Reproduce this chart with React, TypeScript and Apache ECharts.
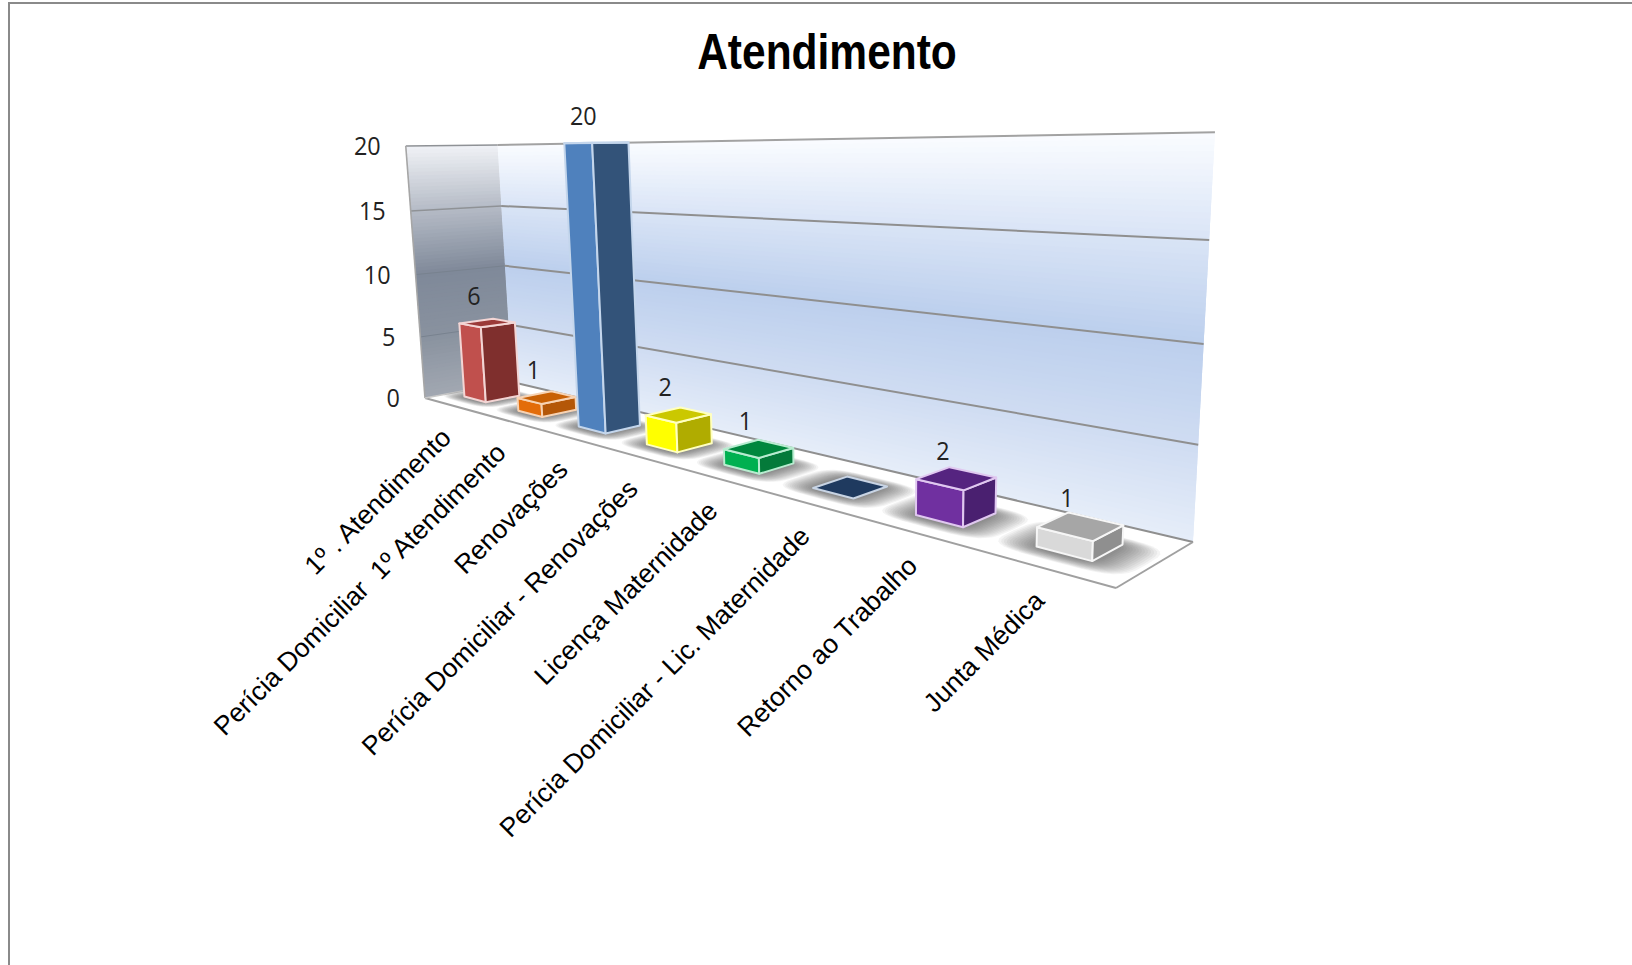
import React, { useEffect, useRef } from "react";
import * as echarts from "echarts";

const titleText = "Atendimento";
const categories = [
  "1º . Atendimento",
  "Perícia Domiciliar  1º Atendimento",
  "Renovações",
  "Perícia Domiciliar - Renovações",
  "Licença Maternidade",
  "Perícia Domiciliar - Lic. Maternidade",
  "Retorno ao Trabalho",
  "Junta Médica",
];
const values = [6, 1, 20, 2, 1, 0, 2, 1];
const yTicks = [0, 5, 10, 15, 20];
const frontColors = ["#c0504d", "#e36c09", "#4f81bd", "#ffff00", "#00b050", "#1f3864", "#7030a0", "#d9d9d9"];
const sideColors = ["#7f2f2d", "#b45708", "#335379", "#b0ac00", "#047a3a", "#1f3864", "#4a2070", "#8f8f8f"];
const topColors = ["#9b3a38", "#c86005", "#4f81bd", "#cbc800", "#00873d", "#1f3a5f", "#552480", "#a6a6a6"];
const edgeColors = ["#f3d5d4", "#f7d3b4", "#c4d6ec", "#ffffc0", "#b8ecd0", "#c8d4e4", "#e0c8f0", "#f6f6f6"];

const backWallStops: [number, number[]][] = [
  [0, [230, 237, 249]], [0.25, [207, 220, 242]], [0.5, [188, 207, 237]], [0.75, [217, 228, 246]], [1, [250, 252, 255]],
];
const leftWallStops: [number, number[]][] = [
  [0, [162, 168, 178]], [0.25, [137, 146, 159]], [0.5, [127, 137, 153]], [0.75, [181, 187, 198]], [1, [240, 242, 246]],
];

// Perspective calibration of the chart box: floor corners and three top corners, in page pixels.
const floorFL = [425, 398];
const floorFR = [1116, 588];
const floorBR = [1193, 542];
const floorBL = [512, 382];
const topFL = [405, 146];
const topBL = [498, 147];
const topBR = [1214, 120];
const heightTrimLeft = 0.985;
const heightTrimRight = 1.01;

// The hidden grid gives the model plane that the axes scale into.
const G = { left: 100, top: 100, width: 800, height: 400 };

function solve(A: number[][], b: number[]) {
  const n = b.length;
  const M = A.map((r, i) => [...r, b[i]]);
  for (let c = 0; c < n; c++) {
    let p = c;
    for (let r = c + 1; r < n; r++) if (Math.abs(M[r][c]) > Math.abs(M[p][c])) p = r;
    [M[c], M[p]] = [M[p], M[c]];
    for (let r = 0; r < n; r++) {
      if (r === c) continue;
      const f = M[r][c] / M[c][c];
      for (let k = c; k <= n; k++) M[r][k] -= f * M[c][k];
    }
  }
  return M.map((r, i) => r[n] / r[i]);
}

const H = (() => {
  const src = [[0, 0], [1, 0], [1, 1], [0, 1]];
  const dst = [floorFL, floorFR, floorBR, floorBL];
  const A: number[][] = [];
  const b: number[] = [];
  src.forEach(([u, w], i) => {
    const [X, Y] = dst[i];
    A.push([u, w, 1, 0, 0, 0, -X * u, -X * w]);
    b.push(X);
    A.push([0, 0, 0, u, w, 1, -Y * u, -Y * w]);
    b.push(Y);
  });
  const h = solve(A, b);
  return [[h[0], h[1], h[2]], [h[3], h[4], h[5]], [h[6], h[7], 1]];
})();

const base = (u: number, w: number) => H.map((r) => r[0] * u + r[1] * w + r[2]);

const C3 = (() => {
  const pts: [number, number, number[]][] = [[0, 0, topFL], [0, 1, topBL], [1, 1, topBR]];
  const rows: number[][] = [];
  const rhs: number[] = [];
  pts.forEach(([u, w, [X, Y]]) => {
    const bb = base(u, w);
    rows.push([1, 0, -X]);
    rhs.push(X * bb[2] - bb[0]);
    rows.push([0, 1, -Y]);
    rhs.push(Y * bb[2] - bb[1]);
  });
  const AtA = [0, 1, 2].map((i) => [0, 1, 2].map((j) => rows.reduce((s, r) => s + r[i] * r[j], 0)));
  const Atb = [0, 1, 2].map((i) => rows.reduce((s, r, k) => s + r[i] * rhs[k], 0));
  return solve(AtA, Atb);
})();

function project(u: number, w: number, v: number) {
  const b = base(u, w);
  const h = v * (heightTrimLeft + (heightTrimRight - heightTrimLeft) * u);
  const z = b[2] + h * C3[2];
  return [(b[0] + h * C3[0]) / z, (b[1] + h * C3[1]) / z];
}

const toU = (px: number) => (px - G.left) / G.width;
const toV = (py: number) => (G.top + G.height - py) / G.height;

function mix(stops: [number, number[]][], t: number) {
  for (let i = 1; i < stops.length; i++) {
    if (t <= stops[i][0]) {
      const [a, ca] = stops[i - 1];
      const [b, cb] = stops[i];
      const f = (t - a) / (b - a);
      const c = ca.map((x, k) => Math.round(x + (cb[k] - x) * f));
      return `rgb(${c[0]},${c[1]},${c[2]})`;
    }
  }
  const c = stops[stops.length - 1][1];
  return `rgb(${c[0]},${c[1]},${c[2]})`;
}

const poly = (points: number[][], style: any) => ({ type: "polygon", shape: { points }, style, silent: true });
const seg = (a: number[], b: number[], stroke: string, lineWidth = 2) => ({
  type: "line",
  shape: { x1: a[0], y1: a[1], x2: b[0], y2: b[1] },
  style: { stroke, lineWidth },
  silent: true,
});

const STRIPS = 70;

function renderWalls(_: any, api: any) {
  const children: any[] = [];
  const v0 = toV(api.coord([0, yTicks[0]])[1]);
  const v1 = toV(api.coord([0, yTicks[yTicks.length - 1]])[1]);
  for (let i = 0; i < STRIPS; i++) {
    const a = v0 + ((v1 - v0) * i) / STRIPS;
    const b = v0 + ((v1 - v0) * Math.min(i + 2, STRIPS)) / STRIPS;
    const m = v0 + ((v1 - v0) * (i + 0.5)) / STRIPS;
    children.push(poly([project(0, 1, a), project(1, 1, a), project(1, 1, b), project(0, 1, b)], { fill: mix(backWallStops, m) }));
    children.push(poly([project(0, 0, a), project(0, 1, a), project(0, 1, b), project(0, 0, b)], { fill: mix(leftWallStops, m) }));
  }
  children.push(poly([project(0, 0, 0), project(1, 0, 0), project(1, 1, 0), project(0, 1, 0)], { fill: "#ffffff" }));
  yTicks.forEach((t) => {
    const v = toV(api.coord([0, t])[1]);
    const leftStroke = t === 10 || t === 5 ? "#78828f" : "#8f9296";
    if (t !== 0) children.push(seg(project(0, 0, v), project(0, 1, v), leftStroke, t >= 15 ? 1.6 : 1));
    children.push(seg(project(0, 1, v), project(1, 1, v), t === 20 ? "#a2a2a2" : "#8f8f8f", 2));
  });
  children.push(seg(project(0, 0, v0), project(0, 0, v1), "#a6a6a6", 1.6));
  children.push(seg(project(0, 0, 0), project(1, 0, 0), "#a0a0a0", 2));
  children.push(seg(project(0, 0, 0), project(0, 1, 0), "#c8c8c8", 1.5));
  children.push(seg(project(1, 0, 0), project(1, 1, 0), "#a0a0a0", 2));
  return { type: "group", children };
}

const BAR_LOW = -0.24;
const BAR_HIGH = 0.17;
const LABEL_SHIFT = -0.035;
const DEPTH_LOW = 0.29;
const DEPTH_HIGH = 0.67;
const SHADOW_LAYERS = 14;

function renderShadow(_: any, api: any) {
  const c = api.coord([api.value(0), 0]);
  const band = api.size([1, 0])[0] / G.width;
  const uc = toU(c[0]) + ((BAR_LOW + BAR_HIGH) / 2) * band;
  const wc = (DEPTH_LOW + DEPTH_HIGH) / 2 - 0.02;
  const children: any[] = [];
  for (let k = SHADOW_LAYERS; k >= 1; k--) {
    const e = k / SHADOW_LAYERS;
    const hu = ((BAR_HIGH - BAR_LOW) / 2 + 0.02 + 0.27 * e) * band;
    const hw = (DEPTH_HIGH - DEPTH_LOW) / 2 + 0.01 + 0.13 * e;
    const pts: number[][] = [];
    for (let a = 0; a < 32; a++) {
      const t = (a / 32) * Math.PI * 2;
      const cs = Math.cos(t);
      const sn = Math.sin(t);
      const px = Math.sign(cs) * Math.pow(Math.abs(cs), 0.5);
      const py = Math.sign(sn) * Math.pow(Math.abs(sn), 0.5);
      pts.push(project(uc + hu * px, wc + hw * py, 0));
    }
    children.push(poly(pts, { fill: "rgba(60,60,60,0.06)" }));
  }
  return { type: "group", children };
}

function renderBar(params: any, api: any) {
  const i = params.dataIndex;
  const c = api.coord([api.value(0), api.value(1)]);
  const band = api.size([1, 0])[0] / G.width;
  const uc = toU(c[0]);
  const v = toV(c[1]);
  const u0 = uc + BAR_LOW * band;
  const u1 = uc + BAR_HIGH * band;
  const edge = { stroke: edgeColors[i], lineWidth: 2, lineJoin: "round" };
  const children: any[] = [];
  if (v > 0) {
    children.push(
      poly([project(u0, DEPTH_LOW, 0), project(u1, DEPTH_LOW, 0), project(u1, DEPTH_LOW, v), project(u0, DEPTH_LOW, v)], { fill: frontColors[i], ...edge }),
      poly([project(u1, DEPTH_LOW, 0), project(u1, DEPTH_HIGH, 0), project(u1, DEPTH_HIGH, v), project(u1, DEPTH_LOW, v)], { fill: sideColors[i], ...edge }),
    );
  }
  children.push(
    poly([project(u0, DEPTH_LOW, v), project(u1, DEPTH_LOW, v), project(u1, DEPTH_HIGH, v), project(u0, DEPTH_HIGH, v)], { fill: topColors[i], ...edge }),
  );
  if (api.value(1) > 0) {
    const p = project(uc + LABEL_SHIFT * band, 0.5, v);
    children.push({
      type: "text",
      x: p[0] - 15,
      y: p[1] - 28,
      scaleX: 0.9,
      silent: true,
      style: { text: String(api.value(1)), textAlign: "center", textVerticalAlign: "middle", fontFamily: "Open Sans", fontSize: 26, fill: "#222222" },
    });
  }
  return { type: "group", children };
}

function renderYLabel(_: any, api: any) {
  const v = toV(api.coord([0, api.value(1)])[1]);
  const p = project(0, 0, v);
  return {
    type: "text",
    x: p[0] - 25,
    y: p[1] - 1,
    scaleX: 0.9,
    silent: true,
    style: { text: String(api.value(1)), textAlign: "right", textVerticalAlign: "middle", fontFamily: "Open Sans", fontSize: 26, fill: "#222222" },
  };
}

function renderCategoryLabel(params: any, api: any) {
  const c = api.coord([api.value(0), 0]);
  const p = project(toU(c[0]), 0, 0);
  return {
    type: "text",
    x: p[0] - 4,
    y: p[1] + 28,
    rotation: (45 * Math.PI) / 180,
    silent: true,
    style: { text: categories[params.dataIndex], textAlign: "right", textVerticalAlign: "middle", fontFamily: "Liberation Sans", fontSize: 26.5, fill: "#000000" },
  };
}

export default function App() {
  const ref = useRef<HTMLDivElement>(null);
  useEffect(() => {
    const chart = echarts.init(ref.current!, undefined, { renderer: "svg" });
    const pairs = categories.map((_, i) => [i, values[i]]);
    const common = { type: "custom", coordinateSystem: "cartesian2d", clip: false, silent: true };
    chart.setOption({
      animation: false,
      backgroundColor: "#ffffff",
      grid: { ...G, show: false },
      xAxis: { type: "category", data: categories, show: false },
      yAxis: { type: "value", min: 0, max: 20, interval: 5, show: false },
      graphic: [
        { type: "rect", shape: { x: 8, y: 2, width: 1624, height: 2 }, style: { fill: "#8a8a8a" }, silent: true },
        { type: "rect", shape: { x: 8, y: 2, width: 2, height: 963 }, style: { fill: "#8a8a8a" }, silent: true },
        {
          type: "text",
          x: 827,
          y: 52,
          scaleX: 0.85,
          silent: true,
          style: { text: titleText, textAlign: "center", textVerticalAlign: "middle", fontFamily: "Liberation Sans", fontWeight: "bold", fontSize: 50, fill: "#000000" },
        },
      ],
      series: [
        { ...common, name: "walls", data: [[0, 0]], renderItem: renderWalls },
        { ...common, name: "shadows", data: pairs, renderItem: renderShadow },
        { ...common, name: "Atendimento", data: pairs, renderItem: renderBar },
        { ...common, name: "yLabels", data: yTicks.map((t) => [0, t]), renderItem: renderYLabel },
        { ...common, name: "categoryLabels", data: pairs, renderItem: renderCategoryLabel },
      ],
    });
    return () => chart.dispose();
  }, []);
  return <div ref={ref} style={{ position: "fixed", left: 0, top: 0, width: 1632, height: 965 }} />;
}
